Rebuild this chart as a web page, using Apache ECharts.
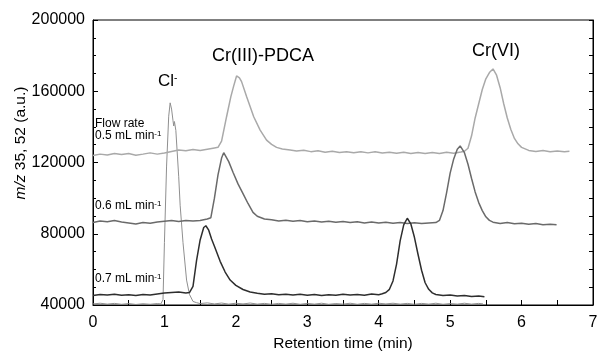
<!DOCTYPE html>
<html>
<head>
<meta charset="utf-8">
<script src="https://cdn.jsdelivr.net/npm/echarts@6/dist/echarts.min.js"></script>
<style>
html, body { margin: 0; padding: 0; background: #fff; }
#chart { width: 598px; height: 351px; }
</style>
</head>
<body>
<div id="chart"></div>
<script>
// retention time (min) vs m/z 35, 52 counts
var xTicks = [0, 1, 2, 3, 4, 5, 6, 7];
var yTicks = [40000, 80000, 120000, 160000, 200000];

var chlorideTrace = [[0,40600],[0.1,41000],[0.2,40500],[0.3,40900],[0.4,40400],[0.5,40800],[0.6,40300],[0.7,40700],[0.8,40400],[0.9,40800],[0.95,40600],[0.98,43000],[1.0,75000],[1.03,118000],[1.06,146000],[1.08,153500],[1.1,150000],[1.12,143500],[1.13,140500],[1.14,143000],[1.16,138000],[1.2,112000],[1.22,96000],[1.26,75000],[1.31,54000],[1.35,46000],[1.4,42000],[1.45,41300],[1.5,40800],[1.6,41200],[1.7,40600],[1.8,41100],[1.9,40500],[2.0,41000],[2.1,40600],[2.2,41100],[2.3,40500],[2.4,40900],[2.5,40400],[2.6,40900],[2.7,40500],[2.8,41000],[2.9,40400],[3.0,40900],[3.1,40500],[3.2,41000],[3.3,40400],[3.4,40800],[3.5,40500],[3.6,41000],[3.7,40400],[3.8,40900],[3.9,40500],[4.0,41000],[4.1,40600],[4.2,41000],[4.3,40500],[4.4,40900],[4.5,40400],[4.6,40900],[4.7,40500],[4.8,41000],[4.9,40400],[5.0,40800],[5.1,40500],[5.2,41000],[5.3,40500],[5.4,40900],[5.46,40600]];

var flow07 = [[0,45300],[0.1,45900],[0.2,45600],[0.3,46100],[0.4,45500],[0.5,45800],[0.6,45400],[0.7,45900],[0.8,45600],[0.9,46200],[1.0,46700],[1.1,47000],[1.2,47300],[1.3,46800],[1.35,47000],[1.4,50500],[1.45,65000],[1.5,76500],[1.55,83500],[1.58,84500],[1.62,82000],[1.66,77000],[1.7,73000],[1.78,64500],[1.85,58500],[1.92,54000],[2.0,51000],[2.1,48700],[2.2,47300],[2.3,46600],[2.4,46000],[2.5,46300],[2.6,45700],[2.7,46100],[2.8,45600],[2.9,46000],[3.0,45500],[3.1,45900],[3.2,45400],[3.3,45800],[3.4,45500],[3.5,46000],[3.6,45600],[3.7,45900],[3.8,45500],[3.9,46200],[4.0,45800],[4.05,46300],[4.1,47000],[4.15,48800],[4.2,53500],[4.25,63000],[4.3,76000],[4.35,85000],[4.4,88700],[4.45,85500],[4.5,78000],[4.55,68500],[4.6,59500],[4.65,52500],[4.7,48800],[4.75,46800],[4.8,45900],[4.9,45300],[5.0,45600],[5.1,45000],[5.2,45300],[5.3,44800],[5.4,45100],[5.48,44600]];

var flow06 = [[0,86300],[0.1,87100],[0.2,86700],[0.3,87400],[0.4,86600],[0.5,86100],[0.6,85500],[0.7,86300],[0.8,85900],[0.9,86600],[1.0,87000],[1.1,87400],[1.2,86900],[1.3,87500],[1.4,87100],[1.5,87500],[1.6,88300],[1.65,89000],[1.7,100000],[1.75,113000],[1.8,122500],[1.83,125500],[1.9,120500],[1.96,114500],[2.03,108000],[2.1,102500],[2.17,97000],[2.24,92000],[2.3,89800],[2.4,88300],[2.5,87800],[2.6,87200],[2.7,87600],[2.8,87000],[2.9,87400],[3.0,86800],[3.1,87200],[3.2,86600],[3.3,87000],[3.4,86400],[3.5,86900],[3.6,86300],[3.7,86700],[3.8,86100],[3.9,86600],[4.0,86000],[4.1,86500],[4.2,85900],[4.3,86300],[4.4,85800],[4.5,86200],[4.6,85700],[4.7,86100],[4.8,86300],[4.85,87500],[4.9,93000],[4.95,103000],[5.0,114000],[5.05,122000],[5.1,127500],[5.14,129300],[5.2,125500],[5.25,119000],[5.3,111000],[5.35,103500],[5.4,97500],[5.45,93000],[5.5,89500],[5.55,87500],[5.6,86500],[5.7,85800],[5.8,86300],[5.9,85600],[6.0,85900],[6.1,85300],[6.2,85700],[6.3,85100],[6.4,85400],[6.49,85000]];

var flow05 = [[0,123900],[0.1,124700],[0.2,124200],[0.3,125100],[0.4,124500],[0.5,125000],[0.6,124100],[0.7,124700],[0.8,125400],[0.9,124700],[1.0,125300],[1.1,126200],[1.2,127000],[1.3,126600],[1.4,127300],[1.5,126800],[1.6,127500],[1.7,128200],[1.75,128500],[1.8,132000],[1.87,145700],[1.93,157000],[1.97,163000],[2.01,168600],[2.05,167500],[2.08,165400],[2.15,157000],[2.25,145700],[2.34,138200],[2.43,132600],[2.5,130200],[2.57,128500],[2.65,127600],[2.76,127000],[2.85,126400],[2.95,126900],[3.05,126100],[3.15,126600],[3.25,125800],[3.35,126300],[3.45,125600],[3.55,126100],[3.65,125500],[3.75,126000],[3.85,125400],[3.95,126000],[4.05,125300],[4.15,125800],[4.25,125200],[4.35,125700],[4.45,125100],[4.55,125600],[4.65,125000],[4.75,125600],[4.85,125100],[4.95,125700],[5.05,125200],[5.15,125900],[5.2,126300],[5.25,128000],[5.3,135000],[5.35,145000],[5.4,153000],[5.45,161000],[5.5,167000],[5.55,170500],[5.6,172500],[5.65,169000],[5.7,162000],[5.75,153000],[5.8,145000],[5.85,138500],[5.9,133500],[5.95,130500],[6.0,128500],[6.1,126800],[6.2,126200],[6.3,126700],[6.4,126000],[6.5,126500],[6.6,126100],[6.67,126300]];

var font = '"Liberation Sans", Arial, Helvetica, sans-serif';

function trace(data, color, width) {
    return {
        type: 'line',
        data: data,
        symbol: 'none',
        smooth: false,
        lineStyle: { color: color, width: width },
        silent: true
    };
}

function flowLabel(text, y) {
    return {
        type: 'text',
        left: 95,
        top: y - 7,
        style: {
            text: text + '{s|-1}',
            font: '12px ' + font,
            fill: '#000',
            rich: { s: { fontSize: 8, fontFamily: font, verticalAlign: 'top', fill: '#000' } }
        }
    };
}

var chart = echarts.init(document.getElementById('chart'));
var option = {
    animation: false,
    backgroundColor: '#fff',
    textStyle: { fontFamily: font },
    grid: {
        left: 93, right: 5, top: 20, bottom: 46,
        outerBoundsMode: 'none',
        containLabel: false,
        show: true, borderColor: '#000', borderWidth: 1
    },
    xAxis: {
        type: 'value',
        min: xTicks[0],
        max: xTicks[xTicks.length - 1],
        interval: 1,
        name: 'Retention time (min)',
        nameLocation: 'middle',
        nameGap: 28,
        nameTextStyle: { fontSize: 15.5, color: '#000', fontFamily: font },
        axisLine: { lineStyle: { color: '#000', width: 1 } },
        axisTick: { inside: true, length: 5, lineStyle: { color: '#000' } },
        minorTick: { show: true, splitNumber: 2, length: 5, lineStyle: { color: '#000' } },
        axisLabel: { fontSize: 16, color: '#000', margin: 10, fontFamily: font },
        splitLine: { show: false }
    },
    yAxis: [
        {
            type: 'value',
            min: yTicks[0],
            max: yTicks[yTicks.length - 1],
            interval: 40000,
            axisLine: { show: true, lineStyle: { color: '#000', width: 1 } },
            axisTick: { inside: true, length: 5, lineStyle: { color: '#000' } },
            minorTick: { show: true, splitNumber: 4, length: 3, lineStyle: { color: '#000' } },
            axisLabel: {
                fontSize: 16, color: '#000', margin: 8, fontFamily: font,
                formatter: function (v) { return String(v); }
            },
            splitLine: { show: false }
        },
        {
            type: 'value',
            position: 'right',
            min: yTicks[0],
            max: yTicks[yTicks.length - 1],
            interval: 40000,
            axisLine: { show: true, lineStyle: { color: '#000', width: 1 } },
            axisTick: { inside: true, length: 4, lineStyle: { color: '#000' } },
            minorTick: { show: true, splitNumber: 4, length: 4, lineStyle: { color: '#000' } },
            axisLabel: { show: false },
            splitLine: { show: false }
        }
    ],
    graphic: [
        {
            type: 'text',
            x: 21,
            y: 143,
            rotation: Math.PI / 2,
            style: {
                text: '{i|m/z} 35, 52 (a.u.)',
                font: '15.5px ' + font,
                fill: '#000',
                align: 'center',
                verticalAlign: 'middle',
                rich: { i: { fontStyle: 'italic', fontSize: 15.5, fontFamily: font, fill: '#000' } }
            }
        },
        {
            type: 'text',
            left: 158,
            top: 73,
            style: {
                text: 'Cl{s|-}',
                font: '17px ' + font,
                fill: '#000',
                rich: { s: { fontSize: 10, fontFamily: font, verticalAlign: 'top', fill: '#000' } }
            }
        },
        {
            type: 'text',
            left: 212,
            top: 47,
            style: { text: 'Cr(III)-PDCA', font: '18px ' + font, fill: '#000' }
        },
        {
            type: 'text',
            left: 472,
            top: 42,
            style: { text: 'Cr(VI)', font: '18px ' + font, fill: '#000' }
        },
        {
            type: 'text',
            left: 95,
            top: 118,
            style: { text: 'Flow rate', font: '12px ' + font, fill: '#000' }
        },
        flowLabel('0.5 mL min', 137),
        flowLabel('0.6 mL min', 207),
        flowLabel('0.7 mL min', 280)
    ],
    series: [
        trace(chlorideTrace, '#8f8f8f', 1),
        trace(flow05, '#a9a9a9', 1.5),
        trace(flow06, '#6a6a6a', 1.5),
        trace(flow07, '#2e2e2e', 1.5)
    ]
};
chart.setOption(option);
</script>
</body>
</html>
